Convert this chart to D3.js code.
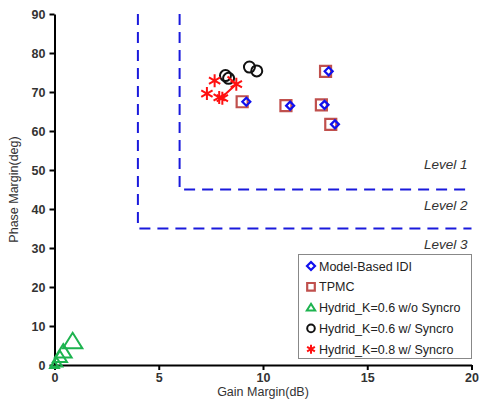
<!DOCTYPE html>
<html>
<head>
<meta charset="utf-8">
<style>
  body { margin: 0; background: #fff; }
  svg text { font-family: Arial, "Liberation Sans", sans-serif; }
</style>
</head>
<body>
<div id="chart"></div>
<script src="https://d3js.org/d3.v7.min.js"></script>
<script>
  // values
  const xTicks = [0, 5, 10, 15, 20];
  const yTicks = [0, 10, 20, 30, 40, 50, 60, 70, 80, 90];

  const idiPoints = [[9.2, 67.5], [11.3, 66.5], [12.95, 66.7], [13.15, 75.3], [13.45, 61.7]];
  const tpmcPoints = [[9.0, 67.5], [11.1, 66.5], [12.8, 66.7], [13.0, 75.3], [13.25, 61.7]];
  const triPoints = [[0.0, 0.0], [0.1, 0.6], [0.26, 2.0], [0.42, 3.4], [0.87, 6.0]];
  const circPoints = [[8.2, 74.2], [8.35, 73.5], [9.35, 76.4], [9.7, 75.4]];
  const starPoints = [[7.68, 72.9], [8.72, 72.0], [7.31, 69.6], [7.9, 68.6], [8.05, 68.4]];
  const starLine = [[8.3, 74.0], [8.72, 72.0], [8.0, 68.5]];

  const levels = [
    { name: "Level 1", gm: 6, pm: 45, labelPm: 51.5 },
    { name: "Level 2", gm: 4, pm: 35, labelPm: 41 },
    { name: "Level 3", gm: null, pm: null, labelPm: 31 }
  ];

  const legendItems = [
    { label: "Model-Based IDI", kind: "diamond" },
    { label: "TPMC", kind: "square" },
    { label: "Hydrid_K=0.6 w/o Syncro", kind: "triangle" },
    { label: "Hydrid_K=0.6 w/ Syncro", kind: "circle" },
    { label: "Hydrid_K=0.8 w/ Syncro", kind: "star" }
  ];

  const W = 481, H = 403;
  const margin = { left: 54.5, right: 9.5, top: 14, bottom: 38 };

  const svg = d3.select("#chart").append("svg")
    .attr("width", W).attr("height", H);

  const x = d3.scaleLinear().domain([0, 20]).range([margin.left, W - margin.right]);
  const y = d3.scaleLinear().domain([0, 90]).range([H - margin.bottom, margin.top]);

  // level boundaries
  const levelG = svg.append("g");
  levels.filter(d => d.gm !== null).forEach(d => {
    levelG.append("path")
      .attr("d", d3.line()([[x(d.gm), y(90)], [x(d.gm), y(d.pm)], [x(20), y(d.pm)]]))
      .attr("fill", "none")
      .attr("stroke", "#1a1adc")
      .attr("stroke-width", 2)
      .attr("stroke-dasharray", "11,7");
  });
  levelG.selectAll("text").data(levels).enter().append("text")
    .attr("x", x(20) - 4)
    .attr("y", d => y(d.labelPm) + 5)
    .attr("text-anchor", "end")
    .attr("font-size", 13.5)
    .attr("font-style", "italic")
    .attr("fill", "#333")
    .text(d => d.name);

  // axes
  const xAxis = svg.append("g")
    .attr("transform", `translate(0,${y(0)})`)
    .call(d3.axisBottom(x).tickValues(xTicks).tickSize(5).tickSizeOuter(0));
  const yAxis = svg.append("g")
    .attr("transform", `translate(${x(0)},0)`)
    .call(d3.axisLeft(y).tickValues(yTicks).tickSize(5).tickSizeOuter(0));
  [xAxis, yAxis].forEach(a => {
    a.select(".domain").attr("stroke", "#000").attr("stroke-width", 2);
    a.selectAll(".tick line").attr("stroke", "#000").attr("stroke-width", 2);
    a.selectAll(".tick text")
      .attr("font-size", 12.5).attr("font-weight", "bold").attr("fill", "#333")
      .attr("font-family", "Arial, 'Liberation Sans', sans-serif");
  });
  xAxis.selectAll(".tick text").attr("y", 7).attr("dy", "0.8em");
  yAxis.selectAll(".tick text").attr("x", -9);

  svg.append("text")
    .attr("x", (x(0) + x(20)) / 2).attr("y", 396)
    .attr("text-anchor", "middle").attr("font-size", 12.5).attr("fill", "#333")
    .text("Gain Margin(dB)");
  svg.append("text")
    .attr("transform", `translate(18,${(y(0) + y(90)) / 2}) rotate(-90)`)
    .attr("text-anchor", "middle").attr("font-size", 12.5).attr("fill", "#333")
    .text("Phase Margin(deg)");

  // marker drawing
  const styles = {
    diamond: { stroke: "#1010ee", width: 2.2 },
    square: { stroke: "#c0504d", width: 2.2 },
    triangle: { stroke: "#1db34f", width: 2 },
    circle: { stroke: "#111", width: 2 },
    star: { stroke: "#ff1010", width: 2 }
  };

  function marker(g, kind, cx, cy, s) {
    const st = styles[kind];
    const sel = g.append("path")
      .attr("fill", "none")
      .attr("stroke", st.stroke)
      .attr("stroke-width", st.width)
      .attr("transform", `translate(${cx},${cy})`);
    let p;
    if (kind === "diamond") {
      p = `M0,${-s}L${s},0L0,${s}L${-s},0Z`;
    } else if (kind === "square") {
      p = `M${-s},${-s}H${s}V${s}H${-s}Z`;
    } else if (kind === "triangle") {
      p = `M0,${-s}L${s * 1.1},${s * 0.75}H${-s * 1.1}Z`;
    } else if (kind === "circle") {
      p = `M${s},0A${s},${s} 0 1,1 ${-s},0A${s},${s} 0 1,1 ${s},0`;
    } else {
      const a = s * 0.87, b = s * 0.5;
      p = `M0,${-s}V${s}M${-a},${-b}L${a},${b}M${-a},${b}L${a},${-b}`;
    }
    sel.attr("d", p);
  }

  const plot = svg.append("g");
  tpmcPoints.forEach(d => marker(plot, "square", x(d[0]), y(d[1]), 5.5));
  idiPoints.forEach(d => marker(plot, "diamond", x(d[0]), y(d[1]), 4));
  triPoints.forEach((d, i) => marker(plot, "triangle", x(d[0]), y(d[1]), 4 + i * 1.2));
  circPoints.forEach(d => marker(plot, "circle", x(d[0]), y(d[1]), 5.5));
  plot.append("path")
    .attr("d", d3.line().x(d => x(d[0])).y(d => y(d[1]))(starLine))
    .attr("fill", "none").attr("stroke", "#ff1010").attr("stroke-width", 2);
  starPoints.forEach(d => marker(plot, "star", x(d[0]), y(d[1]), 6.5));

  // legend
  const lg = svg.append("g");
  lg.append("rect")
    .attr("x", 298.5).attr("y", 254.5).attr("width", 173).attr("height", 104)
    .attr("fill", "#fff").attr("stroke", "#888").attr("stroke-width", 1);
  legendItems.forEach((d, i) => {
    const cy = 266 + i * 20.8;
    marker(lg, d.kind, 311, cy, d.kind === "star" ? 4.5 : d.kind === "diamond" ? 4 : 3.8);
    lg.append("text")
      .attr("x", 319).attr("y", cy + 4.5)
      .attr("font-size", 12.5).attr("fill", "#222")
      .attr("font-family", "'Open Sans', 'Liberation Sans', sans-serif")
      .text(d.label);
  });
</script>
</body>
</html>
